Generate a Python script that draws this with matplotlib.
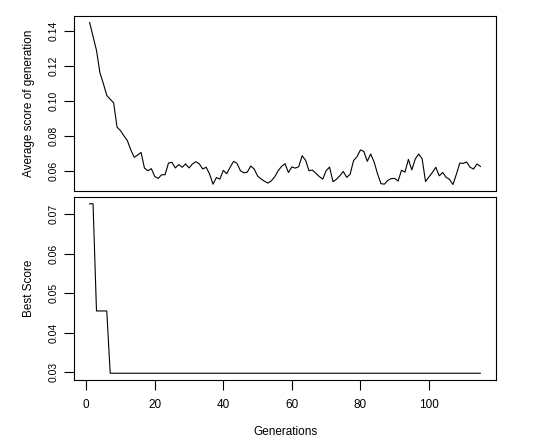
import matplotlib
matplotlib.use("Agg")
import matplotlib.pyplot as plt
import numpy as np

plt.rcParams['font.family'] = ['Liberation Sans', 'DejaVu Sans']

# average score per generation (gens 1..115)
avg_score = [
    0.1450, 0.1370, 0.1290, 0.1162, 0.1100, 0.1032, 0.1010, 0.0990, 0.0850, 0.0830,
    0.0800, 0.0773, 0.0720, 0.0677, 0.0690, 0.0705, 0.0615, 0.0600, 0.0612, 0.0567,
    0.0556, 0.0577, 0.0577, 0.0644, 0.0648, 0.0616, 0.0635, 0.0620, 0.0639, 0.0616,
    0.0639, 0.0652, 0.0639, 0.0610, 0.0620, 0.0581, 0.0523, 0.0561, 0.0552, 0.0602,
    0.0583, 0.0620, 0.0654, 0.0642, 0.0600, 0.0588, 0.0592, 0.0627, 0.0610, 0.0570,
    0.0553, 0.0540, 0.0529, 0.0542, 0.0565, 0.0600, 0.0625, 0.0640, 0.0590, 0.0622,
    0.0615, 0.0623, 0.0686, 0.0660, 0.0600, 0.0604, 0.0585, 0.0567, 0.0552, 0.0600,
    0.0621, 0.0537, 0.0551, 0.0571, 0.0596, 0.0562, 0.0580, 0.0658, 0.0680, 0.0719,
    0.0711, 0.0654, 0.0696, 0.0650, 0.0582, 0.0526, 0.0523, 0.0545, 0.0555, 0.0556,
    0.0541, 0.0603, 0.0592, 0.0665, 0.0605, 0.0667, 0.0696, 0.0669, 0.0538, 0.0565,
    0.0590, 0.0620, 0.0571, 0.0590, 0.0563, 0.0550, 0.0521, 0.0580, 0.0644, 0.0642,
    0.0650, 0.0620, 0.0610, 0.0639, 0.0625,
]
# best score per generation
best_score = [0.0727, 0.0727] + [0.0455] * 4 + [0.0297] * 109

generations = np.arange(1, len(avg_score) + 1)


def r_lim(v):
    # R's default 4% axis extension
    lo, hi = min(v), max(v)
    pad = (hi - lo) * 0.04
    return lo - pad, hi + pad


fig = plt.figure(figsize=(5.34, 4.41), dpi=100)
ax1 = fig.add_axes([74 / 534, 1 - 191 / 441, 422 / 534, 175 / 441])
ax2 = fig.add_axes([74 / 534, 1 - 380 / 441, 422 / 534, 183 / 441])

xlim = r_lim(generations)

ax1.plot(generations, avg_score, color='black', lw=0.8)
ax1.set_xlim(xlim)
ax1.set_ylim(r_lim(avg_score))
ax1.set_xticks([])
ax1.set_yticks([0.06, 0.08, 0.10, 0.12, 0.14])
ax1.set_yticklabels(['0.06', '0.08', '0.10', '0.12', '0.14'])
ax1.set_ylabel('Average score of generation', fontsize=8.5)
ax1.yaxis.set_label_coords(-0.093, 0.5)

ax2.plot(generations, best_score, color='black', lw=0.8)
ax2.set_xlim(xlim)
ax2.set_ylim(r_lim(best_score))
ax2.set_xticks([0, 20, 40, 60, 80, 100])
ax2.set_yticks([0.03, 0.04, 0.05, 0.06, 0.07])
ax2.set_yticklabels(['0.03', '0.04', '0.05', '0.06', '0.07'])
ax2.set_ylabel('Best Score', fontsize=8.5)
ax2.yaxis.set_label_coords(-0.092, 0.5)
ax2.set_xlabel('Generations', fontsize=8.5)
ax2.xaxis.set_label_coords(0.5, -0.252)

for ax in (ax1, ax2):
    for s in ax.spines.values():
        s.set_linewidth(0.8)
    ax.tick_params(axis='y', direction='out', length=7, width=0.8,
                   labelsize=7.5, pad=4, labelrotation=90)
    for t in ax.get_yticklabels():
        t.set_verticalalignment('center')
ax2.tick_params(axis='x', direction='out', length=7, width=0.8,
                labelsize=8.5, pad=7)

fig.savefig('out.png', dpi=100)
